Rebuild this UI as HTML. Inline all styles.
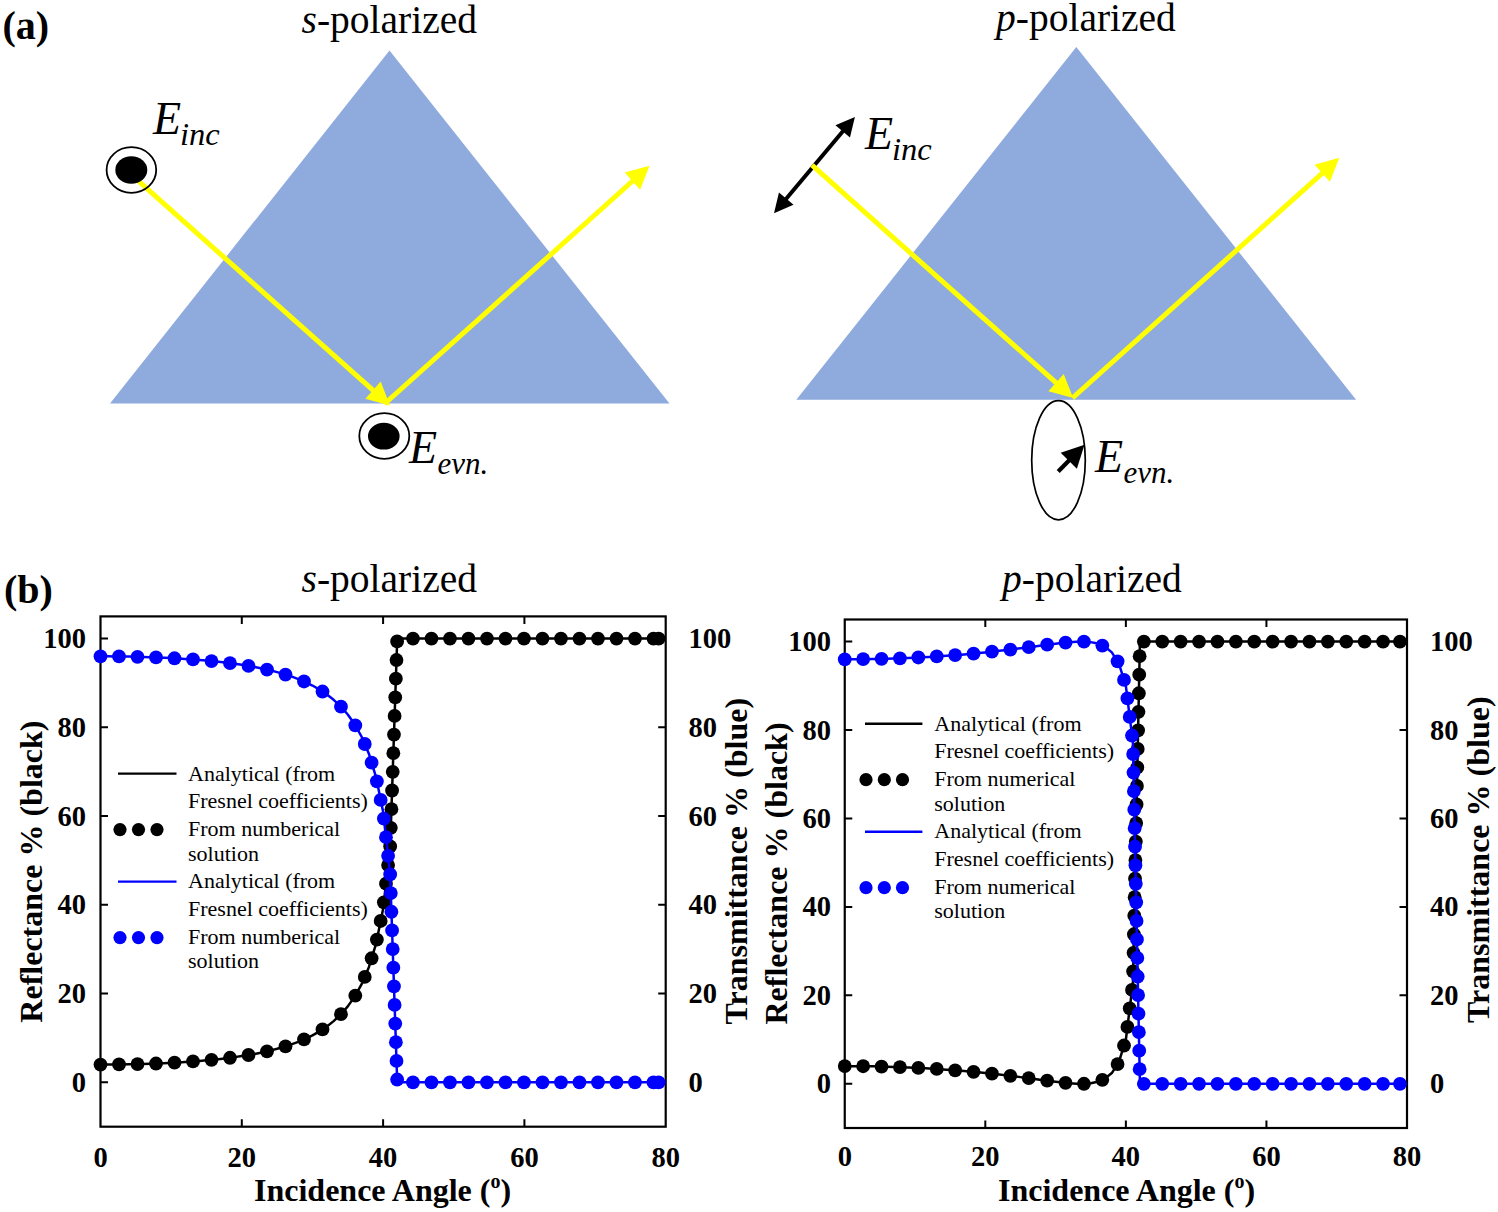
<!DOCTYPE html>
<html><head><meta charset="utf-8"><style>
html,body{margin:0;padding:0;background:#fff;}
svg{display:block;}
text{font-family:"Liberation Serif",serif;}
</style></head><body>
<svg width="1498" height="1212" viewBox="0 0 1498 1212">
<rect width="1498" height="1212" fill="#fff"/>
<text font-family="Liberation Serif" font-weight="bold" font-size="40" x="2.5" y="38.5">(a)</text>
<text font-family="Liberation Serif" font-size="39.5" x="301.5" y="33.3"><tspan font-style="italic">s</tspan>-polarized</text>
<text font-family="Liberation Serif" font-size="39.5" x="996" y="30.6"><tspan font-style="italic">p</tspan>-polarized</text>
<polygon points="110,403.5 389.5,50.5 669.5,403.5" fill="#8FAADC"/>
<polygon points="796.3,399.8 1076.3,47 1356.1,399.8" fill="#8FAADC"/>
<path d="M131.30 174.60L373.73 390.89" stroke="#FFFF00" stroke-width="5.0" fill="none"/><path d="M390.00 405.40L365.30 398.84L380.68 381.60Z" fill="#FFFF00"/>
<path d="M384.40 404.00L633.14 180.50" stroke="#FFFF00" stroke-width="5.0" fill="none"/><path d="M649.50 165.80L640.08 189.73L624.71 172.62Z" fill="#FFFF00"/>
<ellipse cx="131.4" cy="170" rx="24.8" ry="22.8" fill="none" stroke="#000" stroke-width="1.8"/>
<ellipse cx="131.3" cy="170" rx="16" ry="13.7" fill="#000"/>
<ellipse cx="384.3" cy="436" rx="25" ry="22.8" fill="none" stroke="#000" stroke-width="1.8"/>
<ellipse cx="383.8" cy="436.2" rx="15.8" ry="13.4" fill="#000"/>
<text font-family="Liberation Serif" font-style="italic" font-size="46" x="153.00" y="133.60">E</text><text font-family="Liberation Serif" font-style="italic" font-size="32.5" x="180.00" y="144.50">inc</text>
<text font-family="Liberation Serif" font-style="italic" font-size="46" x="409.00" y="462.60">E</text><text font-family="Liberation Serif" font-style="italic" font-size="31" x="437.50" y="473.60">evn.</text>
<path d="M785.58 199.42L843.32 130.68" stroke="#000" stroke-width="4.0" fill="none"/><path d="M854.90 116.90L849.95 137.56L835.40 125.34Z" fill="#000"/><path d="M774.00 213.20L793.50 204.76L778.95 192.54Z" fill="#000"/>
<path d="M812.00 165.20L1056.78 383.36" stroke="#FFFF00" stroke-width="5.0" fill="none"/><path d="M1073.20 398.00L1048.38 391.28L1063.68 374.11Z" fill="#FFFF00"/>
<path d="M1072.50 398.00L1322.95 172.52" stroke="#FFFF00" stroke-width="5.0" fill="none"/><path d="M1339.30 157.80L1329.90 181.74L1314.51 164.64Z" fill="#FFFF00"/>
<ellipse cx="1058.5" cy="460.2" rx="26.8" ry="59.6" fill="none" stroke="#000" stroke-width="1.7"/>
<path d="M1058.20 471.50L1069.48 460.05" stroke="#000" stroke-width="4.2" fill="none"/><path d="M1084.50 444.80L1076.87 468.72L1060.69 452.79Z" fill="#000"/>
<text font-family="Liberation Serif" font-style="italic" font-size="46" x="865.00" y="148.70">E</text><text font-family="Liberation Serif" font-style="italic" font-size="32.5" x="892.00" y="159.50">inc</text>
<text font-family="Liberation Serif" font-style="italic" font-size="46" x="1095.00" y="472.00">E</text><text font-family="Liberation Serif" font-style="italic" font-size="31" x="1123.50" y="483.00">evn.</text>
<text font-family="Liberation Serif" font-weight="bold" font-size="40" x="4" y="602.7">(b)</text>
<text font-family="Liberation Serif" font-size="39.5" x="301.5" y="591.9"><tspan font-style="italic">s</tspan>-polarized</text>
<text font-family="Liberation Serif" font-size="39.5" x="1002" y="591.6"><tspan font-style="italic">p</tspan>-polarized</text>
<rect x="100.50" y="616.40" width="565.20" height="510.30" fill="none" stroke="#000" stroke-width="2.2"/>
<path d="M241.80 1126.70v-7.50M241.80 616.40v7.50M383.10 1126.70v-7.50M383.10 616.40v7.50M524.40 1126.70v-7.50M524.40 616.40v7.50M100.50 1082.30h7.50M665.70 1082.30h-7.50M100.50 993.56h7.50M665.70 993.56h-7.50M100.50 904.82h7.50M665.70 904.82h-7.50M100.50 816.08h7.50M665.70 816.08h-7.50M100.50 727.34h7.50M665.70 727.34h-7.50M100.50 638.60h7.50M665.70 638.60h-7.50" stroke="#000" stroke-width="2" fill="none"/>
<path d="M118.00 773.60H176.50" stroke="#000" stroke-width="2.4"/>
<path d="M118.00 881.60H176.50" stroke="#00f" stroke-width="2.4"/>
<circle cx="120.00" cy="829.60" r="6.6" fill="#000"/>
<circle cx="120.00" cy="937.60" r="6.6" fill="#00f"/>
<circle cx="138.50" cy="829.60" r="6.6" fill="#000"/>
<circle cx="138.50" cy="937.60" r="6.6" fill="#00f"/>
<circle cx="157.00" cy="829.60" r="6.6" fill="#000"/>
<circle cx="157.00" cy="937.60" r="6.6" fill="#00f"/>
<g font-family="Liberation Serif" font-size="22">
<text x="188.00" y="780.70">Analytical (from</text>
<text x="188.00" y="807.80">Fresnel coefficients)</text>
<text x="188.00" y="836.10">From numberical</text>
<text x="188.00" y="860.60">solution</text>
<text x="188.00" y="888.10">Analytical (from</text>
<text x="188.00" y="916.10">Fresnel coefficients)</text>
<text x="188.00" y="944.10">From numberical</text>
<text x="188.00" y="968.30">solution</text>
</g>
<polyline points="100.50,1064.55 107.56,1064.54 114.63,1064.49 121.69,1064.41 128.76,1064.29 135.82,1064.14 142.89,1063.96 149.96,1063.73 157.02,1063.47 164.09,1063.17 171.15,1062.83 178.22,1062.44 185.28,1062.00 192.34,1061.50 199.41,1060.95 206.48,1060.34 213.54,1059.66 220.61,1058.90 227.67,1058.06 234.74,1057.13 241.80,1056.09 248.87,1054.94 255.93,1053.65 263.00,1052.22 270.06,1050.61 277.12,1048.80 284.19,1046.76 291.25,1044.45 298.32,1041.83 305.38,1038.83 312.45,1035.37 319.51,1031.36 326.58,1026.66 333.64,1021.11 340.71,1014.47 347.77,1006.39 354.84,996.37 361.91,983.65 368.97,966.92 376.04,943.78 383.10,909.03 390.17,846.71 397.23,638.60 404.30,638.60 411.36,638.60 418.43,638.60 425.49,638.60 432.56,638.60 439.62,638.60 446.69,638.60 453.75,638.60 460.81,638.60 467.88,638.60 474.94,638.60 482.01,638.60 489.08,638.60 496.14,638.60 503.21,638.60 510.27,638.60 517.34,638.60 524.40,638.60 531.47,638.60 538.53,638.60 545.60,638.60 552.66,638.60 559.73,638.60 566.79,638.60 573.86,638.60 580.92,638.60 587.99,638.60 595.05,638.60 602.12,638.60 609.18,638.60 616.25,638.60 623.31,638.60 630.38,638.60 637.44,638.60 644.50,638.60 651.57,638.60 658.63,638.60" fill="none" stroke="#000" stroke-width="2.5" stroke-linejoin="round"/>
<g fill="#000"><circle cx="100.50" cy="1064.55" r="6.9"/><circle cx="119.00" cy="1064.44" r="6.9"/><circle cx="137.50" cy="1064.10" r="6.9"/><circle cx="156.00" cy="1063.51" r="6.9"/><circle cx="174.50" cy="1062.64" r="6.9"/><circle cx="193.00" cy="1061.45" r="6.9"/><circle cx="211.50" cy="1059.86" r="6.9"/><circle cx="230.00" cy="1057.76" r="6.9"/><circle cx="248.50" cy="1055.00" r="6.9"/><circle cx="267.00" cy="1051.30" r="6.9"/><circle cx="285.50" cy="1046.33" r="6.9"/><circle cx="304.00" cy="1039.41" r="6.9"/><circle cx="322.50" cy="1029.38" r="6.9"/><circle cx="340.97" cy="1014.18" r="6.9"/><circle cx="355.30" cy="995.54" r="6.9"/><circle cx="364.76" cy="976.90" r="6.9"/><circle cx="371.61" cy="958.26" r="6.9"/><circle cx="376.88" cy="939.62" r="6.9"/><circle cx="380.67" cy="920.98" r="6.9"/><circle cx="383.86" cy="902.34" r="6.9"/><circle cx="385.97" cy="883.70" r="6.9"/><circle cx="388.08" cy="865.06" r="6.9"/><circle cx="390.17" cy="846.42" r="6.9"/><circle cx="390.81" cy="827.78" r="6.9"/><circle cx="391.44" cy="809.14" r="6.9"/><circle cx="392.07" cy="790.50" r="6.9"/><circle cx="392.71" cy="771.86" r="6.9"/><circle cx="393.34" cy="753.22" r="6.9"/><circle cx="393.97" cy="734.58" r="6.9"/><circle cx="394.60" cy="715.94" r="6.9"/><circle cx="395.24" cy="697.30" r="6.9"/><circle cx="395.87" cy="678.66" r="6.9"/><circle cx="396.50" cy="660.02" r="6.9"/><circle cx="397.14" cy="641.38" r="6.9"/><circle cx="412.97" cy="638.60" r="6.9"/><circle cx="431.47" cy="638.60" r="6.9"/><circle cx="449.97" cy="638.60" r="6.9"/><circle cx="468.47" cy="638.60" r="6.9"/><circle cx="486.97" cy="638.60" r="6.9"/><circle cx="505.47" cy="638.60" r="6.9"/><circle cx="523.97" cy="638.60" r="6.9"/><circle cx="542.47" cy="638.60" r="6.9"/><circle cx="560.97" cy="638.60" r="6.9"/><circle cx="579.47" cy="638.60" r="6.9"/><circle cx="597.97" cy="638.60" r="6.9"/><circle cx="616.47" cy="638.60" r="6.9"/><circle cx="634.97" cy="638.60" r="6.9"/><circle cx="653.47" cy="638.60" r="6.9"/><circle cx="658.63" cy="638.60" r="6.9"/></g>
<polyline points="100.50,656.35 107.56,656.36 114.63,656.41 121.69,656.49 128.76,656.61 135.82,656.76 142.89,656.94 149.96,657.17 157.02,657.43 164.09,657.73 171.15,658.07 178.22,658.46 185.28,658.90 192.34,659.40 199.41,659.95 206.48,660.56 213.54,661.24 220.61,662.00 227.67,662.84 234.74,663.77 241.80,664.81 248.87,665.96 255.93,667.25 263.00,668.68 270.06,670.29 277.12,672.10 284.19,674.14 291.25,676.45 298.32,679.07 305.38,682.07 312.45,685.53 319.51,689.54 326.58,694.24 333.64,699.79 340.71,706.43 347.77,714.51 354.84,724.53 361.91,737.25 368.97,753.98 376.04,777.12 383.10,811.87 390.17,874.19 397.23,1082.30 404.30,1082.30 411.36,1082.30 418.43,1082.30 425.49,1082.30 432.56,1082.30 439.62,1082.30 446.69,1082.30 453.75,1082.30 460.81,1082.30 467.88,1082.30 474.94,1082.30 482.01,1082.30 489.08,1082.30 496.14,1082.30 503.21,1082.30 510.27,1082.30 517.34,1082.30 524.40,1082.30 531.47,1082.30 538.53,1082.30 545.60,1082.30 552.66,1082.30 559.73,1082.30 566.79,1082.30 573.86,1082.30 580.92,1082.30 587.99,1082.30 595.05,1082.30 602.12,1082.30 609.18,1082.30 616.25,1082.30 623.31,1082.30 630.38,1082.30 637.44,1082.30 644.50,1082.30 651.57,1082.30 658.63,1082.30" fill="none" stroke="#00f" stroke-width="2.5" stroke-linejoin="round"/>
<g fill="#00f"><circle cx="100.50" cy="656.35" r="6.9"/><circle cx="119.00" cy="656.46" r="6.9"/><circle cx="137.50" cy="656.80" r="6.9"/><circle cx="156.00" cy="657.39" r="6.9"/><circle cx="174.50" cy="658.26" r="6.9"/><circle cx="193.00" cy="659.45" r="6.9"/><circle cx="211.50" cy="661.04" r="6.9"/><circle cx="230.00" cy="663.14" r="6.9"/><circle cx="248.50" cy="665.90" r="6.9"/><circle cx="267.00" cy="669.60" r="6.9"/><circle cx="285.50" cy="674.57" r="6.9"/><circle cx="304.00" cy="681.49" r="6.9"/><circle cx="322.50" cy="691.52" r="6.9"/><circle cx="340.97" cy="706.72" r="6.9"/><circle cx="355.30" cy="725.36" r="6.9"/><circle cx="364.76" cy="744.00" r="6.9"/><circle cx="371.61" cy="762.64" r="6.9"/><circle cx="376.88" cy="781.28" r="6.9"/><circle cx="380.67" cy="799.92" r="6.9"/><circle cx="383.86" cy="818.56" r="6.9"/><circle cx="385.97" cy="837.20" r="6.9"/><circle cx="388.08" cy="855.84" r="6.9"/><circle cx="390.17" cy="874.48" r="6.9"/><circle cx="390.81" cy="893.12" r="6.9"/><circle cx="391.44" cy="911.76" r="6.9"/><circle cx="392.07" cy="930.40" r="6.9"/><circle cx="392.71" cy="949.04" r="6.9"/><circle cx="393.34" cy="967.68" r="6.9"/><circle cx="393.97" cy="986.32" r="6.9"/><circle cx="394.60" cy="1004.96" r="6.9"/><circle cx="395.24" cy="1023.60" r="6.9"/><circle cx="395.87" cy="1042.24" r="6.9"/><circle cx="396.50" cy="1060.88" r="6.9"/><circle cx="397.14" cy="1079.52" r="6.9"/><circle cx="412.97" cy="1082.30" r="6.9"/><circle cx="431.47" cy="1082.30" r="6.9"/><circle cx="449.97" cy="1082.30" r="6.9"/><circle cx="468.47" cy="1082.30" r="6.9"/><circle cx="486.97" cy="1082.30" r="6.9"/><circle cx="505.47" cy="1082.30" r="6.9"/><circle cx="523.97" cy="1082.30" r="6.9"/><circle cx="542.47" cy="1082.30" r="6.9"/><circle cx="560.97" cy="1082.30" r="6.9"/><circle cx="579.47" cy="1082.30" r="6.9"/><circle cx="597.97" cy="1082.30" r="6.9"/><circle cx="616.47" cy="1082.30" r="6.9"/><circle cx="634.97" cy="1082.30" r="6.9"/><circle cx="653.47" cy="1082.30" r="6.9"/><circle cx="658.63" cy="1082.30" r="6.9"/></g>
<g font-family="Liberation Serif" font-weight="bold" font-size="28.5">
<text x="100.50" y="1166.80" text-anchor="middle">0</text>
<text x="241.80" y="1166.80" text-anchor="middle">20</text>
<text x="383.10" y="1166.80" text-anchor="middle">40</text>
<text x="524.40" y="1166.80" text-anchor="middle">60</text>
<text x="665.70" y="1166.80" text-anchor="middle">80</text>
<text x="86.00" y="1091.80" text-anchor="end">0</text>
<text x="688.50" y="1091.80">0</text>
<text x="86.00" y="1003.06" text-anchor="end">20</text>
<text x="688.50" y="1003.06">20</text>
<text x="86.00" y="914.32" text-anchor="end">40</text>
<text x="688.50" y="914.32">40</text>
<text x="86.00" y="825.58" text-anchor="end">60</text>
<text x="688.50" y="825.58">60</text>
<text x="86.00" y="736.84" text-anchor="end">80</text>
<text x="688.50" y="736.84">80</text>
<text x="86.00" y="648.10" text-anchor="end">100</text>
<text x="688.50" y="648.10">100</text>
</g>
<text font-family="Liberation Serif" font-weight="bold" font-size="32" x="254.00" y="1201.20">Incidence Angle (<tspan font-size="20" dy="-13">o</tspan><tspan dy="13">)</tspan></text>
<text font-family="Liberation Serif" font-weight="bold" font-size="32" text-anchor="middle" transform="translate(42.00 871.60) rotate(-90)">Reflectance % (black)</text>
<text font-family="Liberation Serif" font-weight="bold" font-size="32" text-anchor="middle" transform="translate(747.00 861.20) rotate(-90)">Transmittance % (blue)</text>
<rect x="844.75" y="619.50" width="562.25" height="508.50" fill="none" stroke="#000" stroke-width="2.2"/>
<path d="M985.31 1128.00v-7.50M985.31 619.50v7.50M1125.87 1128.00v-7.50M1125.87 619.50v7.50M1266.43 1128.00v-7.50M1266.43 619.50v7.50M844.75 1083.80h7.50M1407.00 1083.80h-7.50M844.75 995.36h7.50M1407.00 995.36h-7.50M844.75 906.92h7.50M1407.00 906.92h-7.50M844.75 818.48h7.50M1407.00 818.48h-7.50M844.75 730.04h7.50M1407.00 730.04h-7.50M844.75 641.60h7.50M1407.00 641.60h-7.50" stroke="#000" stroke-width="2" fill="none"/>
<path d="M865.00 723.70H922.40" stroke="#000" stroke-width="2.4"/>
<path d="M865.00 831.70H922.40" stroke="#00f" stroke-width="2.4"/>
<circle cx="866.00" cy="779.70" r="6.6" fill="#000"/>
<circle cx="866.00" cy="887.70" r="6.6" fill="#00f"/>
<circle cx="884.30" cy="779.70" r="6.6" fill="#000"/>
<circle cx="884.30" cy="887.70" r="6.6" fill="#00f"/>
<circle cx="902.50" cy="779.70" r="6.6" fill="#000"/>
<circle cx="902.50" cy="887.70" r="6.6" fill="#00f"/>
<g font-family="Liberation Serif" font-size="22">
<text x="934.30" y="730.80">Analytical (from</text>
<text x="934.30" y="757.90">Fresnel coefficients)</text>
<text x="934.30" y="786.20">From numerical</text>
<text x="934.30" y="810.70">solution</text>
<text x="934.30" y="838.20">Analytical (from</text>
<text x="934.30" y="866.20">Fresnel coefficients)</text>
<text x="934.30" y="894.20">From numerical</text>
<text x="934.30" y="918.40">solution</text>
</g>
<polyline points="844.75,1066.11 851.78,1066.13 858.81,1066.18 865.83,1066.26 872.86,1066.37 879.89,1066.52 886.92,1066.70 893.95,1066.91 900.97,1067.16 908.00,1067.44 915.03,1067.76 922.06,1068.11 929.09,1068.50 936.11,1068.93 943.14,1069.39 950.17,1069.89 957.20,1070.44 964.23,1071.02 971.25,1071.64 978.28,1072.31 985.31,1073.01 992.34,1073.76 999.37,1074.55 1006.39,1075.37 1013.42,1076.24 1020.45,1077.13 1027.48,1078.05 1034.51,1078.99 1041.53,1079.94 1048.56,1080.87 1055.59,1081.76 1062.62,1082.57 1069.65,1083.25 1076.67,1083.69 1083.70,1083.78 1090.73,1083.27 1097.76,1081.83 1104.79,1078.82 1111.81,1073.05 1118.84,1062.05 1125.87,1039.55 1132.90,982.75 1139.93,641.60 1146.95,641.60 1153.98,641.60 1161.01,641.60 1168.04,641.60 1175.07,641.60 1182.09,641.60 1189.12,641.60 1196.15,641.60 1203.18,641.60 1210.21,641.60 1217.23,641.60 1224.26,641.60 1231.29,641.60 1238.32,641.60 1245.35,641.60 1252.37,641.60 1259.40,641.60 1266.43,641.60 1273.46,641.60 1280.49,641.60 1287.51,641.60 1294.54,641.60 1301.57,641.60 1308.60,641.60 1315.63,641.60 1322.65,641.60 1329.68,641.60 1336.71,641.60 1343.74,641.60 1350.77,641.60 1357.79,641.60 1364.82,641.60 1371.85,641.60 1378.88,641.60 1385.91,641.60 1392.93,641.60 1399.96,641.60" fill="none" stroke="#000" stroke-width="2.5" stroke-linejoin="round"/>
<g fill="#000"><circle cx="844.75" cy="1066.11" r="6.9"/><circle cx="863.15" cy="1066.23" r="6.9"/><circle cx="881.55" cy="1066.56" r="6.9"/><circle cx="899.95" cy="1067.12" r="6.9"/><circle cx="918.35" cy="1067.92" r="6.9"/><circle cx="936.75" cy="1068.97" r="6.9"/><circle cx="955.15" cy="1070.28" r="6.9"/><circle cx="973.55" cy="1071.86" r="6.9"/><circle cx="991.95" cy="1073.72" r="6.9"/><circle cx="1010.35" cy="1075.86" r="6.9"/><circle cx="1028.75" cy="1078.22" r="6.9"/><circle cx="1047.15" cy="1080.68" r="6.9"/><circle cx="1065.55" cy="1082.86" r="6.9"/><circle cx="1083.95" cy="1083.76" r="6.9"/><circle cx="1102.35" cy="1079.86" r="6.9"/><circle cx="1117.57" cy="1064.05" r="6.9"/><circle cx="1124.01" cy="1045.51" r="6.9"/><circle cx="1127.43" cy="1026.97" r="6.9"/><circle cx="1129.72" cy="1008.43" r="6.9"/><circle cx="1132.01" cy="989.89" r="6.9"/><circle cx="1133.13" cy="971.35" r="6.9"/><circle cx="1133.51" cy="952.81" r="6.9"/><circle cx="1133.90" cy="934.27" r="6.9"/><circle cx="1134.28" cy="915.73" r="6.9"/><circle cx="1134.66" cy="897.19" r="6.9"/><circle cx="1135.04" cy="878.66" r="6.9"/><circle cx="1135.42" cy="860.12" r="6.9"/><circle cx="1135.81" cy="841.58" r="6.9"/><circle cx="1136.19" cy="823.04" r="6.9"/><circle cx="1136.57" cy="804.50" r="6.9"/><circle cx="1136.95" cy="785.96" r="6.9"/><circle cx="1137.33" cy="767.42" r="6.9"/><circle cx="1137.72" cy="748.88" r="6.9"/><circle cx="1138.10" cy="730.34" r="6.9"/><circle cx="1138.48" cy="711.80" r="6.9"/><circle cx="1138.86" cy="693.27" r="6.9"/><circle cx="1139.24" cy="674.73" r="6.9"/><circle cx="1139.63" cy="656.19" r="6.9"/><circle cx="1143.85" cy="641.60" r="6.9"/><circle cx="1162.25" cy="641.60" r="6.9"/><circle cx="1180.65" cy="641.60" r="6.9"/><circle cx="1199.05" cy="641.60" r="6.9"/><circle cx="1217.45" cy="641.60" r="6.9"/><circle cx="1235.85" cy="641.60" r="6.9"/><circle cx="1254.25" cy="641.60" r="6.9"/><circle cx="1272.65" cy="641.60" r="6.9"/><circle cx="1291.05" cy="641.60" r="6.9"/><circle cx="1309.45" cy="641.60" r="6.9"/><circle cx="1327.85" cy="641.60" r="6.9"/><circle cx="1346.25" cy="641.60" r="6.9"/><circle cx="1364.65" cy="641.60" r="6.9"/><circle cx="1383.05" cy="641.60" r="6.9"/><circle cx="1399.96" cy="641.60" r="6.9"/></g>
<polyline points="844.75,659.29 851.78,659.27 858.81,659.22 865.83,659.14 872.86,659.03 879.89,658.88 886.92,658.70 893.95,658.49 900.97,658.24 908.00,657.96 915.03,657.64 922.06,657.29 929.09,656.90 936.11,656.47 943.14,656.01 950.17,655.51 957.20,654.96 964.23,654.38 971.25,653.76 978.28,653.09 985.31,652.39 992.34,651.64 999.37,650.85 1006.39,650.03 1013.42,649.16 1020.45,648.27 1027.48,647.35 1034.51,646.41 1041.53,645.46 1048.56,644.53 1055.59,643.64 1062.62,642.83 1069.65,642.15 1076.67,641.71 1083.70,641.62 1090.73,642.13 1097.76,643.57 1104.79,646.58 1111.81,652.35 1118.84,663.35 1125.87,685.85 1132.90,742.65 1139.93,1083.80 1146.95,1083.80 1153.98,1083.80 1161.01,1083.80 1168.04,1083.80 1175.07,1083.80 1182.09,1083.80 1189.12,1083.80 1196.15,1083.80 1203.18,1083.80 1210.21,1083.80 1217.23,1083.80 1224.26,1083.80 1231.29,1083.80 1238.32,1083.80 1245.35,1083.80 1252.37,1083.80 1259.40,1083.80 1266.43,1083.80 1273.46,1083.80 1280.49,1083.80 1287.51,1083.80 1294.54,1083.80 1301.57,1083.80 1308.60,1083.80 1315.63,1083.80 1322.65,1083.80 1329.68,1083.80 1336.71,1083.80 1343.74,1083.80 1350.77,1083.80 1357.79,1083.80 1364.82,1083.80 1371.85,1083.80 1378.88,1083.80 1385.91,1083.80 1392.93,1083.80 1399.96,1083.80" fill="none" stroke="#00f" stroke-width="2.5" stroke-linejoin="round"/>
<g fill="#00f"><circle cx="844.75" cy="659.29" r="6.9"/><circle cx="863.15" cy="659.17" r="6.9"/><circle cx="881.55" cy="658.84" r="6.9"/><circle cx="899.95" cy="658.28" r="6.9"/><circle cx="918.35" cy="657.48" r="6.9"/><circle cx="936.75" cy="656.43" r="6.9"/><circle cx="955.15" cy="655.12" r="6.9"/><circle cx="973.55" cy="653.54" r="6.9"/><circle cx="991.95" cy="651.68" r="6.9"/><circle cx="1010.35" cy="649.54" r="6.9"/><circle cx="1028.75" cy="647.18" r="6.9"/><circle cx="1047.15" cy="644.72" r="6.9"/><circle cx="1065.55" cy="642.54" r="6.9"/><circle cx="1083.95" cy="641.64" r="6.9"/><circle cx="1102.35" cy="645.54" r="6.9"/><circle cx="1117.57" cy="661.35" r="6.9"/><circle cx="1124.01" cy="679.89" r="6.9"/><circle cx="1127.43" cy="698.43" r="6.9"/><circle cx="1129.72" cy="716.97" r="6.9"/><circle cx="1132.01" cy="735.51" r="6.9"/><circle cx="1133.13" cy="754.05" r="6.9"/><circle cx="1133.51" cy="772.59" r="6.9"/><circle cx="1133.90" cy="791.13" r="6.9"/><circle cx="1134.28" cy="809.67" r="6.9"/><circle cx="1134.66" cy="828.21" r="6.9"/><circle cx="1135.04" cy="846.74" r="6.9"/><circle cx="1135.42" cy="865.28" r="6.9"/><circle cx="1135.81" cy="883.82" r="6.9"/><circle cx="1136.19" cy="902.36" r="6.9"/><circle cx="1136.57" cy="920.90" r="6.9"/><circle cx="1136.95" cy="939.44" r="6.9"/><circle cx="1137.33" cy="957.98" r="6.9"/><circle cx="1137.72" cy="976.52" r="6.9"/><circle cx="1138.10" cy="995.06" r="6.9"/><circle cx="1138.48" cy="1013.60" r="6.9"/><circle cx="1138.86" cy="1032.13" r="6.9"/><circle cx="1139.24" cy="1050.67" r="6.9"/><circle cx="1139.63" cy="1069.21" r="6.9"/><circle cx="1143.85" cy="1083.80" r="6.9"/><circle cx="1162.25" cy="1083.80" r="6.9"/><circle cx="1180.65" cy="1083.80" r="6.9"/><circle cx="1199.05" cy="1083.80" r="6.9"/><circle cx="1217.45" cy="1083.80" r="6.9"/><circle cx="1235.85" cy="1083.80" r="6.9"/><circle cx="1254.25" cy="1083.80" r="6.9"/><circle cx="1272.65" cy="1083.80" r="6.9"/><circle cx="1291.05" cy="1083.80" r="6.9"/><circle cx="1309.45" cy="1083.80" r="6.9"/><circle cx="1327.85" cy="1083.80" r="6.9"/><circle cx="1346.25" cy="1083.80" r="6.9"/><circle cx="1364.65" cy="1083.80" r="6.9"/><circle cx="1383.05" cy="1083.80" r="6.9"/><circle cx="1399.96" cy="1083.80" r="6.9"/></g>
<g font-family="Liberation Serif" font-weight="bold" font-size="28.5">
<text x="844.75" y="1166.40" text-anchor="middle">0</text>
<text x="985.31" y="1166.40" text-anchor="middle">20</text>
<text x="1125.87" y="1166.40" text-anchor="middle">40</text>
<text x="1266.43" y="1166.40" text-anchor="middle">60</text>
<text x="1406.99" y="1166.40" text-anchor="middle">80</text>
<text x="831.00" y="1093.30" text-anchor="end">0</text>
<text x="1430.00" y="1093.30">0</text>
<text x="831.00" y="1004.86" text-anchor="end">20</text>
<text x="1430.00" y="1004.86">20</text>
<text x="831.00" y="916.42" text-anchor="end">40</text>
<text x="1430.00" y="916.42">40</text>
<text x="831.00" y="827.98" text-anchor="end">60</text>
<text x="1430.00" y="827.98">60</text>
<text x="831.00" y="739.54" text-anchor="end">80</text>
<text x="1430.00" y="739.54">80</text>
<text x="831.00" y="651.10" text-anchor="end">100</text>
<text x="1430.00" y="651.10">100</text>
</g>
<text font-family="Liberation Serif" font-weight="bold" font-size="32" x="998.00" y="1201.20">Incidence Angle (<tspan font-size="20" dy="-13">o</tspan><tspan dy="13">)</tspan></text>
<text font-family="Liberation Serif" font-weight="bold" font-size="32" text-anchor="middle" transform="translate(787.30 873.50) rotate(-90)">Reflectance % (black)</text>
<text font-family="Liberation Serif" font-weight="bold" font-size="32" text-anchor="middle" transform="translate(1489.00 859.70) rotate(-90)">Transmittance % (blue)</text>
</svg>
</body></html>
